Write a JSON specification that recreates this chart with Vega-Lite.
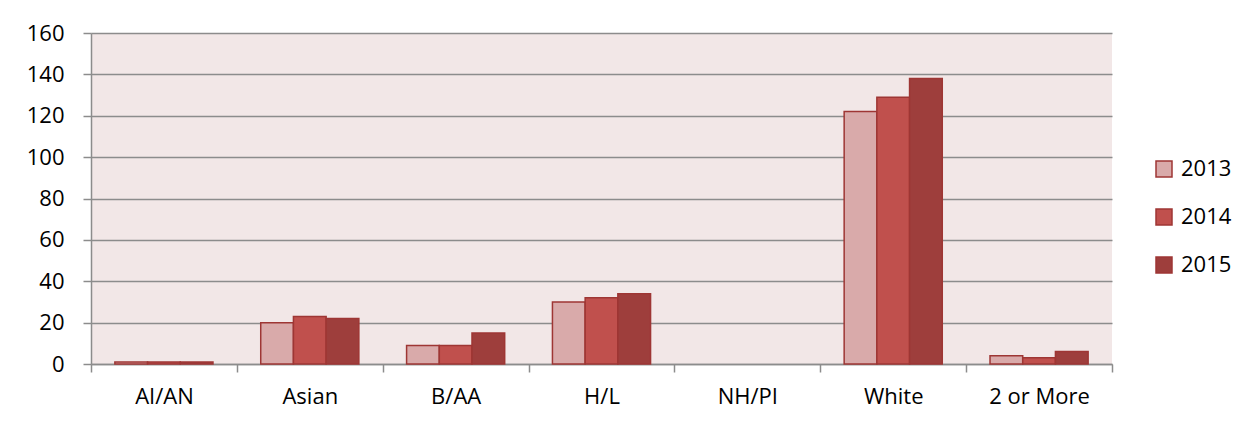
{
  "$schema": "https://vega.github.io/schema/vega-lite/v6.json",
  "width": 1021,
  "height": 331,
  "autosize": "none",
  "padding": {"left": 91, "top": 33, "right": 145, "bottom": 66},
  "background": "white",
  "data": {
    "values": [
      {"group": "AI/AN", "year": "2013", "value": 1},
      {"group": "AI/AN", "year": "2014", "value": 1},
      {"group": "AI/AN", "year": "2015", "value": 1},
      {"group": "Asian", "year": "2013", "value": 20},
      {"group": "Asian", "year": "2014", "value": 23},
      {"group": "Asian", "year": "2015", "value": 22},
      {"group": "B/AA", "year": "2013", "value": 9},
      {"group": "B/AA", "year": "2014", "value": 9},
      {"group": "B/AA", "year": "2015", "value": 15},
      {"group": "H/L", "year": "2013", "value": 30},
      {"group": "H/L", "year": "2014", "value": 32},
      {"group": "H/L", "year": "2015", "value": 34},
      {"group": "NH/PI", "year": "2013", "value": 0},
      {"group": "NH/PI", "year": "2014", "value": 0},
      {"group": "NH/PI", "year": "2015", "value": 0},
      {"group": "White", "year": "2013", "value": 122},
      {"group": "White", "year": "2014", "value": 129},
      {"group": "White", "year": "2015", "value": 138},
      {"group": "2 or More", "year": "2013", "value": 4},
      {"group": "2 or More", "year": "2014", "value": 3},
      {"group": "2 or More", "year": "2015", "value": 6}
    ]
  },
  "mark": {"type": "bar", "stroke": "#9E3634", "strokeWidth": 1.5},
  "encoding": {
    "x": {
      "field": "group",
      "type": "nominal",
      "sort": null,
      "scale": {"paddingInner": 0, "paddingOuter": 0},
      "axis": {
        "title": null,
        "labelAngle": 0,
        "tickBand": "extent",
        "tickSize": 8,
        "tickColor": "#8c8c8c",
        "tickWidth": 1.5,
        "domainColor": "#8c8c8c",
        "domainWidth": 1.5,
        "labelPadding": 14,
        "labelFont": "Open Sans",
        "labelFontSize": 22,
        "labelColor": "#000000"
      }
    },
    "xOffset": {
      "field": "year",
      "type": "nominal",
      "scale": {"paddingInner": 0, "paddingOuter": 0.73}
    },
    "y": {
      "field": "value",
      "type": "quantitative",
      "scale": {"domain": [0, 160]},
      "axis": {
        "title": null,
        "values": [0, 20, 40, 60, 80, 100, 120, 140, 160],
        "grid": true,
        "gridColor": "#8c8c8c",
        "gridWidth": 1.5,
        "tickSize": 8,
        "tickColor": "#8c8c8c",
        "tickWidth": 1.5,
        "domainColor": "#8c8c8c",
        "domainWidth": 1.5,
        "labelPadding": 19,
        "labelFont": "Open Sans",
        "labelFontSize": 22,
        "labelColor": "#000000"
      }
    },
    "strokeOpacity": {
      "condition": {"test": "datum.value == 0", "value": 0},
      "value": 1
    },
    "fill": {
      "field": "year",
      "type": "nominal",
      "scale": {"domain": ["2013", "2014", "2015"], "range": ["#D9AAAA", "#C0504D", "#9E3E3C"]},
      "legend": {
        "title": null,
        "orient": "none",
        "legendX": 1062,
        "legendY": 125,
        "symbolType": "square",
        "symbolSize": 256,
        "symbolStrokeColor": "#9E3634",
        "symbolStrokeWidth": 1.5,
        "labelFont": "Open Sans",
        "labelFontSize": 22,
        "labelColor": "#000000",
        "labelOffset": 6,
        "rowPadding": 26
      }
    }
  },
  "config": {
    "view": {"fill": "#F2E7E7", "stroke": null}
  }
}
